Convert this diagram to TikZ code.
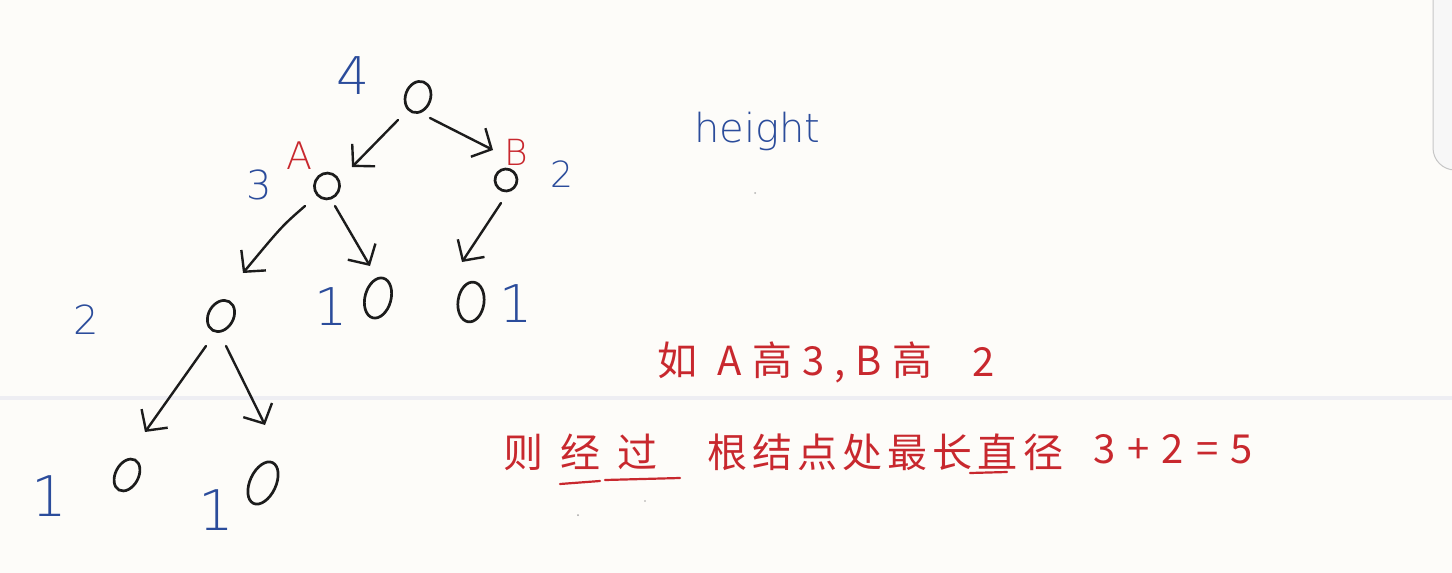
\documentclass[tikz,border=0pt]{standalone}
\usepackage{fontspec}
\setmainfont{Noto Sans CJK SC}
\newfontfamily\handfont{DejaVu Sans ExtraLight}
\usetikzlibrary{shapes.geometric,arrows.meta,calc}
\definecolor{paper}{HTML}{FDFCF9}
\definecolor{ink}{HTML}{1C1C1C}
\definecolor{pblue}{HTML}{2B4C9B}
\definecolor{pred}{HTML}{C8282E}
\definecolor{rulecol}{HTML}{EEEEF3}
\newcommand\spreadtext[2]{\makebox[#1][s]{#2}}
\begin{document}
\begin{tikzpicture}[x=1pt,y=-1pt,
  tn/.style={ellipse, draw=ink, line width=2.7pt, inner sep=0pt, minimum width=24pt, minimum height=30pt},
  arr/.style={draw=ink, line width=2.4pt, line cap=round, line join=round,
    -{Straight Barb[length=15pt,width=32pt,line width=2.4pt]}},
  hl/.style={text=pblue, inner sep=0pt},
  bigred/.style={text=pred, inner sep=0pt, font=\fontsize{40}{44}\selectfont},
  uline/.style={pred, line width=2.2pt, line cap=round},
]
\useasboundingbox (0,0) rectangle (1452,573);
\clip (0,0) rectangle (1452,573);
\fill[paper] (0,0) rectangle (1452,573);
\fill[rulecol] (0,396) rectangle (1452,400);
\draw[fill=gray!6, draw=gray!45, line width=1pt, rounded corners=22pt] (1433,-40) rectangle (1490,170);

% tree nodes
\node[tn, rotate=-20, minimum width=25pt, minimum height=32pt] (r) at (418,97) {};
\node[tn, rotate=-25, minimum width=25pt, minimum height=26pt] (a) at (327,186) {};
\node[tn, rotate=-20, minimum width=22pt, minimum height=22pt] (b) at (506,180) {};
\node[tn, rotate=-30, minimum width=25pt, minimum height=33pt] (al) at (221,316) {};
\node[tn, rotate=-15, minimum width=26pt, minimum height=41pt] (ar) at (378,298) {};
\node[tn, rotate=-8, minimum width=26pt, minimum height=40pt] (bl) at (471,302) {};
\node[tn, rotate=-28, minimum width=23pt, minimum height=34pt] (ll) at (127,475) {};
\node[tn, rotate=-25, minimum width=26pt, minimum height=45pt] (lr) at (263,483) {};

% arrows
\draw[arr] ($(r)+(-20,23)$) -- ($(a)+(25,-19)$);
\draw[arr] ($(r)+(12,21)$) -- ($(b)+(-13,-30)$);
\draw[arr] ($(a)+(-22,20)$) .. controls ($(a)+(-45,40)$) .. ($(al)+(22,-43)$);
\draw[arr] ($(a)+(8,20)$) -- ($(ar)+(-8,-32)$);
\draw[arr] ($(b)+(-5,23)$) -- ($(bl)+(-9,-40)$);
\draw[arr] ($(al)+(-15,30)$) -- ($(ll)+(18,-43)$);
\draw[arr] ($(al)+(5,30)$) -- ($(lr)+(2,-58)$);

% height labels (blue) and names (red)
\node[hl, font=\handfont\fontsize{52}{54}\selectfont] (h4) at (353,76) {4};
\node[hl, font=\handfont\fontsize{40}{42}\selectfont] (h3) at (259,185) {3};
\node[hl, font=\handfont\fontsize{36}{38}\selectfont] (h2b) at (562,174) {2};
\node[hl, font=\handfont\fontsize{40}{42}\selectfont] (h2l) at (86,320) {2};
\node[hl, font=\handfont\fontsize{52}{54}\selectfont] (h1ar) at (331,307) {1};
\node[hl, font=\handfont\fontsize{52}{54}\selectfont] (h1bl) at (516,304) {1};
\node[hl, font=\handfont\fontsize{56}{58}\selectfont] (h1ll) at (49,496) {1};
\node[hl, font=\handfont\fontsize{56}{58}\selectfont] (h1lr) at (216,510) {1};
\node[text=pred, inner sep=0pt, font=\handfont\fontsize{38}{40}\selectfont] (la) at (299,156) {A};
\node[text=pred, inner sep=0pt, font=\handfont\fontsize{36}{38}\selectfont] (lb) at (516,152) {B};

\node[hl, font=\handfont\fontsize{40}{42}\selectfont, anchor=base west] (ht) at (694,142) {height};

% red notes
\node[bigred] (t1a) at (677,360) {如};
\node[bigred] (t1b) at (825,362) {\spreadtext{215pt}{A\hfill 高\hfill 3\hfill ,\hfill B\hfill 高}};
\node[bigred] (t1c) at (984,362) {2};

\node[bigred] (t2a) at (580,452) {\spreadtext{154pt}{则\hfill 经\hfill 过}};
\node[bigred] (t2b) at (885,452) {\spreadtext{356pt}{根\hfill 结\hfill 点\hfill 处\hfill 最\hfill 长\hfill 直\hfill 径}};
\node[bigred] (t2c) at (1173,449) {\spreadtext{160pt}{3\hfill +\hfill 2\hfill =\hfill 5}};
\draw[uline] (560,484) -- (600,481);
\draw[uline] (605,480) -- (680,478);
\draw[uline] (970,473) -- (1007,472);

% stray specks
\fill[gray!70] (578,515) circle (1pt);
\fill[gray!70] (645,501) circle (0.8pt);
\fill[gray!60] (755,193) circle (1pt);
\end{tikzpicture}
\end{document}
